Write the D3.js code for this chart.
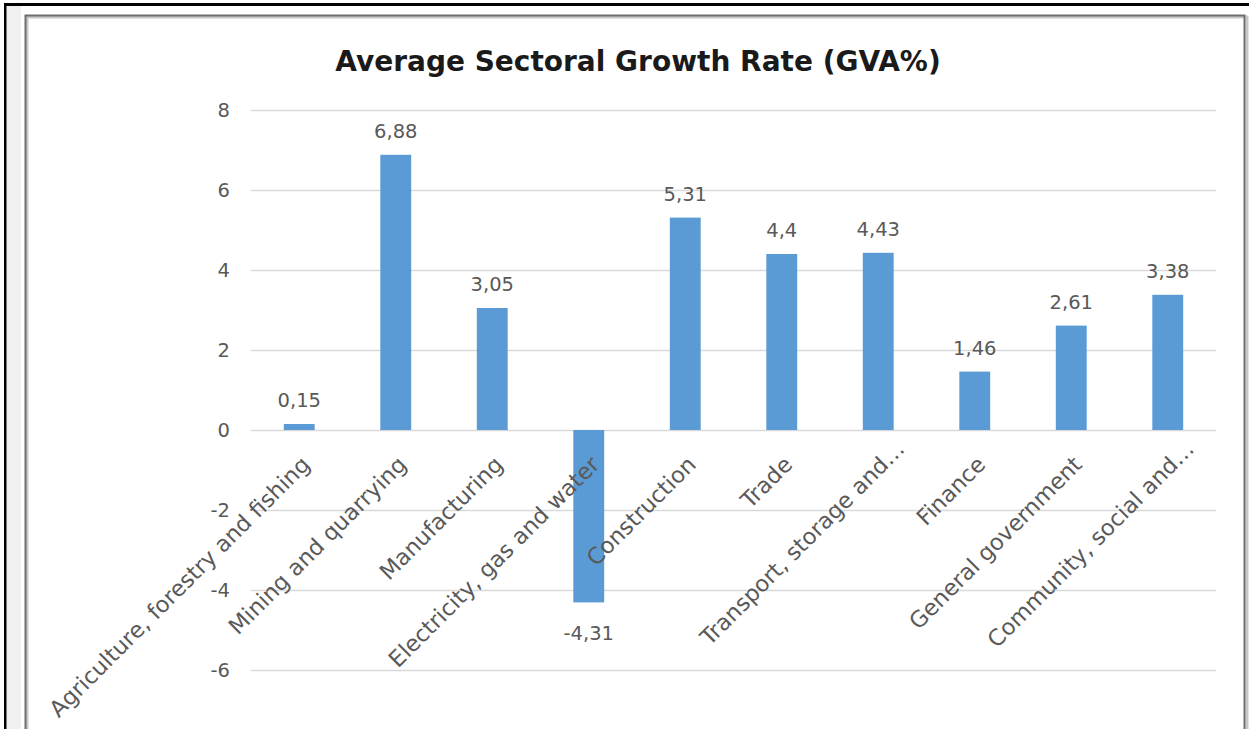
<!DOCTYPE html>
<html>
<head>
<meta charset="utf-8">
<script src="https://cdn.jsdelivr.net/npm/d3@7"></script>
<style>
  html, body { margin: 0; padding: 0; background: #fff; }
  svg { display: block; }
  text { font-family: "DejaVu Sans", sans-serif; }
</style>
</head>
<body>
<svg id="chart" width="1249" height="729"></svg>
<script>
// Sector names and their average GVA growth rates (%)
const sectors = [
  "Agriculture, forestry and fishing",
  "Mining and quarrying",
  "Manufacturing",
  "Electricity, gas and water",
  "Construction",
  "Trade",
  "Transport, storage and\u2026",
  "Finance",
  "General government",
  "Community, social and\u2026"
];
const growth = [0.15, 6.88, 3.05, -4.31, 5.31, 4.4, 4.43, 1.46, 2.61, 3.38];
const yTicks = [-6, -4, -2, 0, 2, 4, 6, 8];
const title = "Average Sectoral Growth Rate (GVA%)";

const W = 1249, H = 729;
const svg = d3.select("#chart");

// Page frame: dark edge, grey gutter, then the chart card
svg.append("rect").attr("x", 0).attr("y", 0).attr("width", W).attr("height", H).attr("fill", "#fff");
svg.append("rect").attr("x", 6).attr("y", 6).attr("width", 15).attr("height", H - 6).attr("fill", "#f0f0f0");
svg.append("rect").attr("x", 4).attr("y", 3).attr("width", W - 4).attr("height", 3).attr("fill", "#000");
svg.append("rect").attr("x", 4).attr("y", 3).attr("width", 2.5).attr("height", H - 3).attr("fill", "#000");
// card shadow + border
svg.append("path")
  .attr("d", `M27,${H} V17 H1247 V${H}`)
  .attr("fill", "none").attr("stroke", "#c8c8c8").attr("stroke-width", 3);
svg.append("path")
  .attr("d", `M25.5,${H} V15.5 H1244.5 V${H}`)
  .attr("fill", "none").attr("stroke", "#6e6e6e").attr("stroke-width", 2);

// Plot area
const plot = { left: 251, right: 1216, top: 110, bottom: 670 };

const x = d3.scaleBand()
  .domain(sectors)
  .range([plot.left, plot.right])
  .paddingInner(0.68)
  .paddingOuter(0.34);

const y = d3.scaleLinear()
  .domain([-6, 8])
  .range([plot.bottom, plot.top]);

const textColor = "#595959";

// Horizontal gridlines with value labels on the left
const yAxis = d3.axisLeft(y)
  .tickValues(yTicks)
  .tickSize(-(plot.right - plot.left))
  .tickPadding(21)
  .tickFormat(d3.format("d"));

const gy = svg.append("g")
  .attr("transform", `translate(${plot.left},0)`)
  .call(yAxis);
gy.select(".domain").remove();
gy.selectAll(".tick line").attr("stroke", "#d9d9d9").attr("stroke-width", 1.5);
gy.selectAll(".tick text")
  .attr("fill", textColor)
  .attr("font-size", 19.5)
  .text(d => d < 0 ? "-" + Math.abs(d) : d);

// Bars
svg.append("g").selectAll("rect")
  .data(sectors.map((s, i) => ({ s, v: growth[i] })))
  .join("rect")
  .attr("x", d => x(d.s))
  .attr("width", x.bandwidth())
  .attr("y", d => y(Math.max(0, d.v)))
  .attr("height", d => Math.abs(y(d.v) - y(0)))
  .attr("fill", "#5b9bd5");

// Value labels, decimal comma
const fmt = v => String(v).replace(".", ",");
svg.append("g").selectAll("text")
  .data(sectors.map((s, i) => ({ s, v: growth[i] })))
  .join("text")
  .attr("x", d => x(d.s) + x.bandwidth() / 2)
  .attr("y", d => d.v >= 0 ? y(d.v) - 17 : y(d.v) + 38)
  .attr("text-anchor", "middle")
  .attr("fill", textColor)
  .attr("font-size", 19.5)
  .text(d => fmt(d.v));

// Rotated category labels, drawn over the bars; truncated names sit a little further along
svg.append("g").selectAll("text")
  .data(sectors)
  .join("text")
  .attr("transform", d => `translate(${x(d) + x.bandwidth() / 2 + 12},${y(0) + 36}) rotate(-45)`)
  .attr("text-anchor", "end")
  .attr("dx", d => d.endsWith("\u2026") ? 22 : 0)
  .attr("fill", textColor)
  .attr("font-size", 22.5)
  .text(d => d);

// Title
svg.append("text")
  .attr("x", 638)
  .attr("y", 71)
  .attr("text-anchor", "middle")
  .attr("font-size", 28)
  .attr("font-weight", "bold")
  .attr("fill", "#1a1a1a")
  .text(title);
</script>
</body>
</html>
